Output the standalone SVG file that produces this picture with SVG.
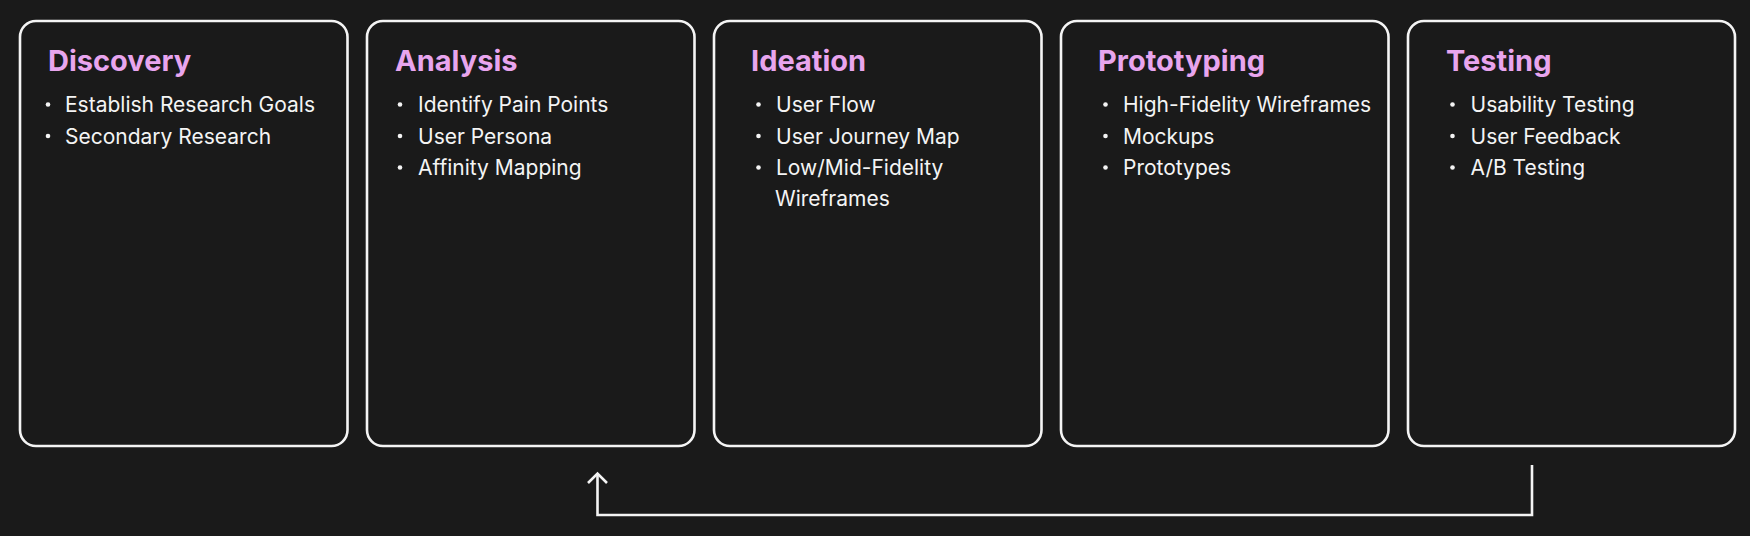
<svg xmlns="http://www.w3.org/2000/svg" width="1750" height="536" viewBox="0 0 1750 536">
<style>
.box{fill:#1a1a1a;stroke:#f4f4f4;stroke-width:2.6}
.title{font-family:Inter,"Noto Sans",sans-serif;font-weight:700;font-size:29px;fill:#e8a5ee}
.item{font-family:Inter,"Noto Sans",sans-serif;font-size:21px;fill:#f4f4f4}
.dot{fill:#f4f4f4}
.conn{fill:none;stroke:#f4f4f4;stroke-width:2.6}
</style>
<rect width="1750" height="536" fill="#1a1a1a"/>
<g id="discovery">
<rect class="box" x="20" y="21" width="327.5" height="425" rx="16"/>
<text class="title" x="48" y="71">Discovery</text>
<circle class="dot" cx="48" cy="104.5" r="2.3"/><text class="item" x="65" y="112">Establish Research Goals</text>
<circle class="dot" cx="48" cy="136" r="2.3"/><text class="item" x="65" y="143.5">Secondary Research</text>
</g>
<g id="analysis">
<rect class="box" x="367" y="21" width="327.5" height="425" rx="16"/>
<text class="title" x="395" y="71">Analysis</text>
<circle class="dot" cx="400" cy="104.5" r="2.3"/><text class="item" x="418" y="112">Identify Pain Points</text>
<circle class="dot" cx="400" cy="136" r="2.3"/><text class="item" x="418" y="143.5">User Persona</text>
<circle class="dot" cx="400" cy="167.5" r="2.3"/><text class="item" x="418" y="175">Affinity Mapping</text>
</g>
<g id="ideation">
<rect class="box" x="714" y="21" width="327.5" height="425" rx="16"/>
<text class="title" x="751" y="71">Ideation</text>
<circle class="dot" cx="758.5" cy="104.5" r="2.3"/><text class="item" x="776" y="112">User Flow</text>
<circle class="dot" cx="758.5" cy="136" r="2.3"/><text class="item" x="776" y="143.5">User Journey Map</text>
<circle class="dot" cx="758.5" cy="167.5" r="2.3"/><text class="item" x="776" y="175">Low/Mid-Fidelity</text>
<text class="item" x="775" y="206">Wireframes</text>
</g>
<g id="prototyping">
<rect class="box" x="1061" y="21" width="327.5" height="425" rx="16"/>
<text class="title" x="1098" y="71">Prototyping</text>
<circle class="dot" cx="1105.5" cy="104.5" r="2.3"/><text class="item" x="1123" y="112">High-Fidelity Wireframes</text>
<circle class="dot" cx="1105.5" cy="136" r="2.3"/><text class="item" x="1123" y="143.5">Mockups</text>
<circle class="dot" cx="1105.5" cy="167.5" r="2.3"/><text class="item" x="1123" y="175">Prototypes</text>
</g>
<g id="testing">
<rect class="box" x="1408" y="21" width="327" height="425" rx="16"/>
<text class="title" x="1446" y="71">Testing</text>
<circle class="dot" cx="1452.5" cy="104.5" r="2.3"/><text class="item" x="1470.5" y="112">Usability Testing</text>
<circle class="dot" cx="1452.5" cy="136" r="2.3"/><text class="item" x="1470.5" y="143.5">User Feedback</text>
<circle class="dot" cx="1452.5" cy="167.5" r="2.3"/><text class="item" x="1470.5" y="175">A/B Testing</text>
</g>
<g id="connectors">
<path class="conn" d="M1532 465 V515 H597.5 V474"/>
<path class="conn" d="M588 483 L597.5 473.5 L607 483"/>
</g>
</svg>
